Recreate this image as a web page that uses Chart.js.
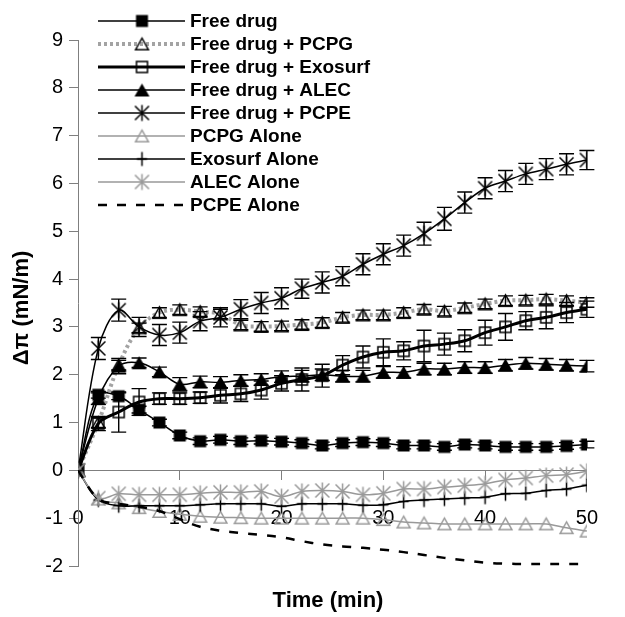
<!DOCTYPE html>
<html>
<head>
<meta charset="utf-8">
<script src="https://cdn.jsdelivr.net/npm/chart.js@4.4.1/dist/chart.umd.min.js"></script>
<style>
  html, body { margin: 0; padding: 0; background: #fff; }
  canvas { display: block; }
</style>
</head>
<body>
<canvas id="chart" width="625" height="617"></canvas>
<script>
// time points (min)
const times = [0, 2, 4, 6, 8, 10, 12, 14, 16, 18, 20, 22, 24, 26, 28, 30, 32, 34, 36, 38, 40, 42, 44, 46, 48, 50];

// delta pi (mN/m) per series
const freeDrug = [0, 1.58, 1.55, 1.27, 1.0, 0.73, 0.61, 0.64, 0.61, 0.62, 0.6, 0.57, 0.52, 0.57, 0.59, 0.57, 0.52, 0.52, 0.49, 0.54, 0.52, 0.49, 0.49, 0.49, 0.51, 0.54];
const fdPCPG = [0, 1.0, 2.2, 2.98, 3.3, 3.36, 3.32, 3.27, 3.04, 3.01, 3.02, 3.05, 3.09, 3.2, 3.25, 3.25, 3.3, 3.37, 3.33, 3.4, 3.48, 3.55, 3.56, 3.58, 3.55, 3.51];
const fdExosurf = [0, 0.98, 1.22, 1.43, 1.5, 1.5, 1.52, 1.57, 1.6, 1.68, 1.82, 1.9, 1.98, 2.2, 2.37, 2.47, 2.5, 2.6, 2.64, 2.71, 2.88, 3.0, 3.13, 3.2, 3.3, 3.37];
const fdALEC = [0, 1.5, 2.18, 2.25, 2.06, 1.8, 1.85, 1.84, 1.88, 1.9, 1.96, 1.97, 2.0, 1.97, 1.97, 2.05, 2.05, 2.12, 2.12, 2.15, 2.15, 2.2, 2.24, 2.22, 2.2, 2.18];
const fdPCPE = [0, 2.55, 3.35, 3.0, 2.83, 2.88, 3.12, 3.2, 3.37, 3.5, 3.6, 3.8, 3.93, 4.06, 4.31, 4.52, 4.7, 4.95, 5.26, 5.6, 5.9, 6.05, 6.2, 6.3, 6.4, 6.49];
const pcpgAlone = [0, -0.6, -0.68, -0.78, -0.86, -0.92, -0.96, -0.98, -0.99, -1.0, -1.0, -1.0, -1.0, -1.0, -1.0, -1.03, -1.08, -1.1, -1.12, -1.12, -1.12, -1.12, -1.12, -1.12, -1.2, -1.27];
const exosurfAlone = [0, -0.62, -0.74, -0.74, -0.74, -0.74, -0.72, -0.7, -0.7, -0.7, -0.75, -0.7, -0.7, -0.7, -0.73, -0.72, -0.65, -0.62, -0.6, -0.58, -0.56, -0.49, -0.48, -0.42, -0.39, -0.31];
const alecAlone = [0, -0.58, -0.49, -0.51, -0.51, -0.51, -0.48, -0.46, -0.46, -0.44, -0.55, -0.44, -0.42, -0.44, -0.51, -0.48, -0.39, -0.39, -0.35, -0.32, -0.28, -0.2, -0.16, -0.11, -0.09, -0.02];
const pcpeAlone = [0, -0.6, -0.7, -0.76, -0.85, -1.02, -1.18, -1.26, -1.31, -1.35, -1.4, -1.48, -1.55, -1.59, -1.62, -1.66, -1.71, -1.77, -1.83, -1.88, -1.93, -1.95, -1.96, -1.96, -1.96, -1.96];

// error bars (+/-)
const errFree = [0, 0.07, 0.07, 0.07, 0.07, 0.07, 0.07, 0.07, 0.07, 0.07, 0.07, 0.07, 0.07, 0.07, 0.07, 0.07, 0.07, 0.07, 0.07, 0.07, 0.07, 0.07, 0.07, 0.07, 0.07, 0.07];
const errPCPG = [0, 0.1, 0.1, 0.1, 0.1, 0.1, 0.1, 0.1, 0.1, 0.1, 0.1, 0.1, 0.1, 0.1, 0.1, 0.1, 0.1, 0.1, 0.1, 0.1, 0.1, 0.1, 0.1, 0.1, 0.1, 0.1];
const errExosurf = [0, 0.15, 0.42, 0.28, 0.12, 0.12, 0.12, 0.16, 0.16, 0.19, 0.16, 0.24, 0.24, 0.2, 0.23, 0.28, 0.19, 0.33, 0.23, 0.23, 0.26, 0.28, 0.19, 0.24, 0.21, 0.17];
const errALEC = [0, 0.12, 0.16, 0.1, 0.1, 0.14, 0.12, 0.12, 0.12, 0.12, 0.12, 0.12, 0.12, 0.12, 0.12, 0.12, 0.12, 0.12, 0.12, 0.12, 0.12, 0.12, 0.12, 0.12, 0.12, 0.12];
const errPCPE = [0, 0.23, 0.23, 0.2, 0.22, 0.22, 0.2, 0.2, 0.2, 0.22, 0.22, 0.2, 0.22, 0.2, 0.22, 0.22, 0.22, 0.24, 0.24, 0.22, 0.22, 0.22, 0.22, 0.22, 0.22, 0.2];

const yTicks = [-2, -1, 0, 1, 2, 3, 4, 5, 6, 7, 8, 9];
const xTicks = [0, 10, 20, 30, 40, 50];

const FONT = "'Liberation Sans', Arial, Helvetica, sans-serif";
const GRAY = "#999999";

// markers drawn into small canvases, used as pointStyle and in the legend
function marker(kind, color) {
    const s = 19;
    const c = document.createElement("canvas");
    c.width = s;
    c.height = s;
    const g = c.getContext("2d");
    const m = s / 2;
    g.strokeStyle = color;
    g.fillStyle = color;
    g.lineWidth = 1.4;
    if (kind === "square") {
        g.fillRect(m - 6, m - 6, 12, 12);
    } else if (kind === "openSquare") {
        g.lineWidth = 1.5;
        g.strokeRect(m - 5.5, m - 5.5, 11, 11);
    } else if (kind === "triangle" || kind === "openTriangle") {
        const w = kind === "triangle" ? 7.5 : 6.5;
        const h = kind === "triangle" ? 6.5 : 5.8;
        g.beginPath();
        g.moveTo(m, m - h);
        g.lineTo(m + w, m + h);
        g.lineTo(m - w, m + h);
        g.closePath();
        if (kind === "triangle") g.fill();
        else g.stroke();
    } else if (kind === "asterisk") {
        g.lineWidth = 1.5;
        g.beginPath();
        g.moveTo(m, m - 8); g.lineTo(m, m + 8);
        g.moveTo(m - 7, m - 7); g.lineTo(m + 7, m + 7);
        g.moveTo(m + 7, m - 7); g.lineTo(m - 7, m + 7);
        g.stroke();
    } else if (kind === "plus") {
        g.lineWidth = 1.5;
        g.beginPath();
        g.moveTo(m, m - 7); g.lineTo(m, m + 7);
        g.moveTo(m - 5, m); g.lineTo(m + 5, m);
        g.stroke();
    }
    return c;
}

function pts(values) {
    return times.map((t, i) => ({ x: t, y: values[i] }));
}

function series(label, values, opts) {
    return Object.assign({
        label: label,
        data: pts(values),
        borderColor: "#000",
        borderWidth: 1.5,
        pointRadius: 6,
        pointHoverRadius: 6,
        tension: 0.35,
        fill: false,
    }, opts);
}

const datasets = [
    series("Free drug", freeDrug, { pointStyle: marker("square", "#000"), err: errFree }),
    series("Free drug + PCPG", fdPCPG, { borderColor: "#a3a3a3", borderWidth: 4, borderDash: [3, 3], pointStyle: marker("openTriangle", "#000"), err: errPCPG }),
    series("Free drug + Exosurf", fdExosurf, { borderWidth: 3, pointStyle: marker("openSquare", "#000"), err: errExosurf }),
    series("Free drug + ALEC", fdALEC, { pointStyle: marker("triangle", "#000"), err: errALEC }),
    series("Free drug + PCPE", fdPCPE, { pointStyle: marker("asterisk", "#000"), err: errPCPE }),
    series("PCPG Alone", pcpgAlone, { borderColor: GRAY, pointStyle: marker("openTriangle", GRAY) }),
    series("Exosurf Alone", exosurfAlone, { pointStyle: marker("plus", "#000") }),
    series("ALEC Alone", alecAlone, { borderColor: GRAY, pointStyle: marker("asterisk", GRAY) }),
    series("PCPE Alone", pcpeAlone, { borderWidth: 2.5, borderDash: [9, 10], pointRadius: 0 }),
];
// later series on top, like the original
datasets.forEach((ds, i) => { ds.order = datasets.length - i; });

const errorBars = {
    id: "errorBars",
    afterDatasetDraw(chart, args) {
        const ds = chart.data.datasets[args.index];
        if (!ds.err) return;
        const ctx = chart.ctx;
        const ys = chart.scales.y;
        ctx.save();
        ctx.strokeStyle = "#000";
        ctx.lineWidth = 1.4;
        ctx.setLineDash([]);
        args.meta.data.forEach((pt, i) => {
            const e = ds.err[i];
            if (!e) return;
            const v = ds.data[i].y;
            const top = ys.getPixelForValue(v + e);
            const bot = ys.getPixelForValue(v - e);
            ctx.beginPath();
            ctx.moveTo(pt.x, top); ctx.lineTo(pt.x, bot);
            ctx.moveTo(pt.x - 7.5, top); ctx.lineTo(pt.x + 7.5, top);
            ctx.moveTo(pt.x - 7.5, bot); ctx.lineTo(pt.x + 7.5, bot);
            ctx.stroke();
        });
        ctx.restore();
    },
};

// legend and axis titles
const decorations = {
    id: "decorations",
    afterDraw(chart) {
        const ctx = chart.ctx;
        ctx.save();
        ctx.font = "bold 19px " + FONT;
        ctx.fillStyle = "#000";
        ctx.textBaseline = "middle";
        chart.data.datasets.forEach((ds, i) => {
            const y = 21 + i * 23;
            ctx.save();
            ctx.strokeStyle = ds.borderColor;
            ctx.lineWidth = ds.borderWidth;
            ctx.setLineDash(ds.borderDash || []);
            ctx.beginPath();
            ctx.moveTo(98, y);
            ctx.lineTo(185, y);
            ctx.stroke();
            ctx.restore();
            if (ds.pointRadius > 0) {
                const mk = ds.pointStyle;
                ctx.drawImage(mk, 142 - mk.width / 2, y - mk.height / 2);
            }
            ctx.fillText(ds.label, 190, y + 1);
        });

        ctx.font = "bold 22px " + FONT;
        ctx.textAlign = "center";
        ctx.fillText("Time (min)", 328, 601);

        ctx.translate(22, 308);
        ctx.rotate(-Math.PI / 2);
        ctx.fillText("Δπ (mN/m)", 0, 0);
        ctx.restore();
    },
};

new Chart(document.getElementById("chart"), {
    type: "line",
    data: { datasets: datasets },
    options: {
        responsive: false,
        animation: false,
        devicePixelRatio: 1,
        layout: { padding: { top: 40, right: 13, bottom: 51, left: 0 } },
        plugins: {
            legend: { display: false },
            tooltip: { enabled: false },
        },
        scales: {
            x: {
                type: "linear",
                min: 0,
                max: 50,
                position: { y: 0 },
                afterBuildTicks: (s) => { s.ticks = xTicks.map((v) => ({ value: v })); },
                ticks: { color: "#000", font: { family: FONT, size: 20 }, padding: 27, maxRotation: 0 },
                grid: { drawOnChartArea: false, tickLength: 9, color: "#7f7f7f" },
                border: { color: "#7f7f7f", width: 1 },
            },
            y: {
                min: -2,
                max: 9,
                afterBuildTicks: (s) => { s.ticks = yTicks.map((v) => ({ value: v })); },
                afterFit: (s) => { s.width = 78; },
                ticks: { color: "#000", font: { family: FONT, size: 20 }, padding: 6 },
                grid: { drawOnChartArea: false, tickLength: 9, color: "#7f7f7f" },
                border: { color: "#7f7f7f", width: 1 },
            },
        },
    },
    plugins: [errorBars, decorations],
});
</script>
</body>
</html>
